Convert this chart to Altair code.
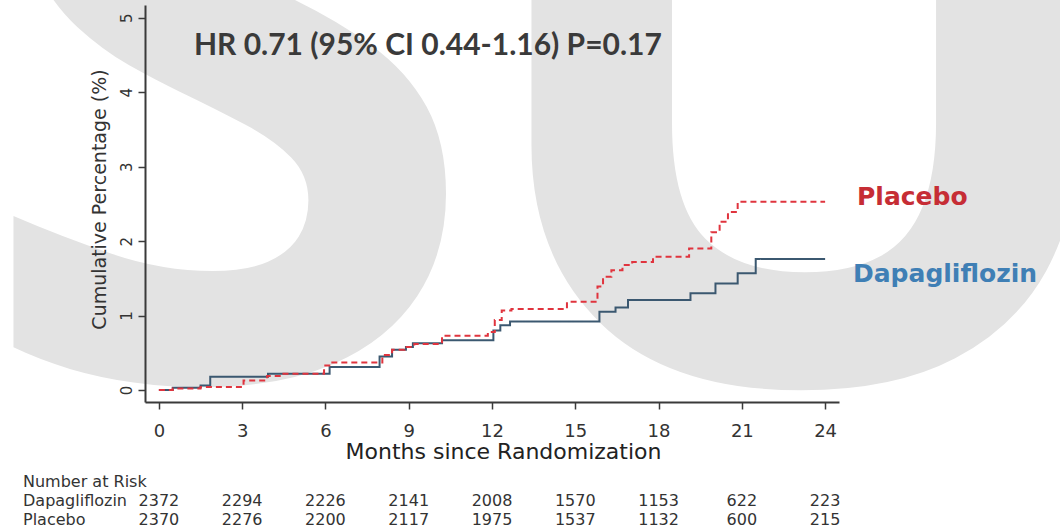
import altair as alt
import pandas as pd

# Cumulative incidence (%) step curves: month at which each step starts, and level after it
dapa_months = [0, 0.5, 1.5, 1.85, 3.93, 6.15, 7.95, 8.4, 8.9, 9.15, 10.2, 12.05, 12.3, 12.65,
               15.87, 16.45, 16.9, 19.15, 20.05, 20.85, 21.5, 24.0]
dapa_pct = [0, 0.03, 0.06, 0.18, 0.22, 0.31, 0.45, 0.54, 0.58, 0.63, 0.67, 0.80, 0.87, 0.92,
            1.05, 1.11, 1.21, 1.30, 1.43, 1.57, 1.76, 1.76]

plac_months = [0, 0.5, 1.5, 3.05, 3.9, 4.4, 5.95, 6.2, 8.05, 8.4, 8.85, 9.2, 10.2, 11.85, 12.1,
               12.35, 12.7, 14.7, 15.8, 16.0, 16.3, 16.7, 17.05, 17.8, 19.1, 19.9, 20.2, 20.5,
               20.85, 24.0]
plac_pct = [0, 0.02, 0.04, 0.13, 0.19, 0.22, 0.33, 0.37, 0.47, 0.54, 0.58, 0.62, 0.73, 0.78, 0.94,
            1.07, 1.09, 1.185, 1.39, 1.52, 1.61, 1.68, 1.72, 1.79, 1.90, 2.12, 2.26, 2.39,
            2.53, 2.53]

# Number at risk table
risk_months = [0, 3, 6, 9, 12, 15, 18, 21, 24]
risk_dapa = [2372, 2294, 2226, 2141, 2008, 1570, 1153, 622, 223]
risk_plac = [2370, 2276, 2200, 2117, 1975, 1537, 1132, 600, 215]

x_ticks = [0, 3, 6, 9, 12, 15, 18, 21, 24]
y_ticks = [0, 1, 2, 3, 4, 5]

groups = ["Dapagliflozin", "Placebo"]
line_colors = ["#3b5870", "#e0343e"]

curves = pd.concat([
    pd.DataFrame({"month": dapa_months, "pct": dapa_pct, "group": groups[0]}),
    pd.DataFrame({"month": plac_months, "pct": plac_pct, "group": groups[1]}),
])

AXIS_GRAY = "#3a3a3a"
x_scale = alt.Scale(domain=[-0.5, 24.5], nice=False, zero=False)
y_scale = alt.Scale(domain=[-0.16, 5.17], nice=False, zero=False)

x_axis = alt.Axis(
    values=x_ticks, format="d", grid=False, zindex=1,
    domainColor=AXIS_GRAY, domainWidth=2, tickColor=AXIS_GRAY, tickWidth=1.5, tickSize=7,
    labelFont="DejaVu Sans", labelFontSize=18, labelColor="#333333", labelPadding=13,
    labelBaseline="top",
    titleFont="DejaVu Sans", titleFontSize=22, titleFontWeight="normal", titleColor="#222222",
    titleX=358, titleY=49, titleBaseline="middle", titleAlign="center",
)
y_axis = alt.Axis(
    values=y_ticks, format="d", grid=False, zindex=1,
    domainColor=AXIS_GRAY, domainWidth=2, tickColor=AXIS_GRAY, tickWidth=1.5, tickSize=7,
    labelFont="DejaVu Sans", labelFontSize=15, labelColor="#333333", labelAngle=270,
    labelAlign="center", labelBaseline="middle", labelPadding=12,
    titleFont="DejaVu Sans", titleFontSize=19, titleFontWeight="normal", titleColor="#333333",
    titleAngle=270, titleX=-46, titleY=194, titleBaseline="middle", titleAlign="center",
)

x_enc = alt.X("month:Q", scale=x_scale, axis=x_axis, title="Months since Randomization")
y_enc = alt.Y("pct:Q", scale=y_scale, axis=y_axis, title="Cumulative Percentage (%)")

one_row = pd.DataFrame({"k": [0]})


def label(text, x, y, size, color, font="DejaVu Sans", weight="normal", align="left"):
    return alt.Chart(one_row).mark_text(
        text=text, font=font, fontSize=size, fontWeight=weight, color=color,
        align=align, baseline="alphabetic",
    ).encode(x=alt.value(x), y=alt.value(y))


# Large light-gray "SU" backdrop lettering
backdrop = alt.layer(
    label("S", 82, 373, 930, "#e3e3e3", font="Noto Sans", weight="bold", align="center"),
    label("U", 659, 376, 930, "#e3e3e3", font="Noto Sans", weight="bold", align="center"),
)

lines = alt.Chart(curves).mark_line(interpolate="step-after", strokeWidth=2).encode(
    x=x_enc,
    y=y_enc,
    color=alt.Color("group:N", scale=alt.Scale(domain=groups, range=line_colors), legend=None),
    strokeDash=alt.StrokeDash("group:N", scale=alt.Scale(domain=groups, range=[[1, 0], [6, 4]]),
                              legend=None),
)

annotations = alt.layer(
    label("HR 0.71 (95% CI 0.44-1.16) P=0.17", 49, 50, 30, "#3a3a3a", font="Lato", weight="bold"),
    label("Placebo", 712, 200, 25, "#c62d35", weight="bold"),
    label("Dapagliflozin", 708, 277, 25, "#3f7fb5", weight="bold"),
)


def risk_row(values, y):
    df = pd.DataFrame({"month": risk_months, "n": [str(v) for v in values]})
    return alt.Chart(df).mark_text(
        font="DejaVu Sans", fontSize=16, color="#333333", align="center", baseline="alphabetic"
    ).encode(x=x_enc, y=alt.value(y), text="n:N")


risk_table = alt.layer(
    label("Number at Risk", -122, 482, 16, "#333333"),
    label("Dapagliflozin", -122, 501, 16, "#333333"),
    label("Placebo", -122, 520, 16, "#333333"),
    risk_row(risk_dapa, 501),
    risk_row(risk_plac, 520),
)

chart = alt.layer(backdrop, lines, annotations, risk_table).properties(
    width=694, height=397,
    autosize=alt.AutoSizeParams(type="none"),
    padding={"left": 145, "top": 5, "right": 221, "bottom": 126},
    background="white",
).configure_view(stroke=None)

chart.save("out.html", embed_options={"renderer": "svg", "actions": False})
